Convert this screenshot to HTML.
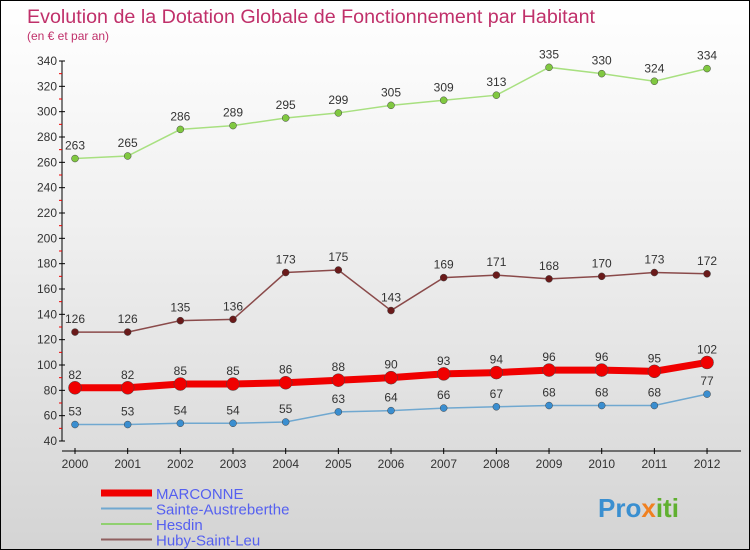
<!DOCTYPE html>
<html><head><meta charset="utf-8"><style>
body{margin:0}
#c{width:748px;height:548px;border:1px solid #000;background:linear-gradient(#fff 0%,#f0f0f0 40%,#d4d4d4 100%);position:relative;font-family:"Liberation Sans",sans-serif}
svg{position:absolute;left:0;top:0}
</style></head><body>
<div id="c">
<svg id="s" width="748" height="548" font-family="Liberation Sans, sans-serif">
<text x="26" y="22" font-size="19.7" fill="#c0306a">Evolution de la Dotation Globale de Fonctionnement par Habitant</text>
<text x="26" y="39" font-size="12" fill="#c0306a">(en € et par an)</text>
<text x="597" y="516" font-size="26" font-weight="bold" fill="#3a8fd0">Pro<tspan fill="#f08020">x</tspan><tspan fill="#60b030">iti</tspan></text>
</svg>
</div>
<script>
const years=["2000","2001","2002","2003","2004","2005","2006","2007","2008","2009","2010","2011","2012"];
const marconne=[82,82,85,85,86,88,90,93,94,96,96,95,102];
const sainte=[53,53,54,54,55,63,64,66,67,68,68,68,77];
const hesdin=[263,265,286,289,295,299,305,309,313,335,330,324,334];
const huby=[126,126,135,136,173,175,143,169,171,168,170,173,172];
const yTicks=[40,60,80,100,120,140,160,180,200,220,240,260,280,300,320,340];
const names=["MARCONNE","Sainte-Austreberthe","Hesdin","Huby-Saint-Leu"];
const s=document.getElementById('s');const NS="http://www.w3.org/2000/svg";
function el(t,a,p){const e=document.createElementNS(NS,t);for(const k in a)e.setAttribute(k,a[k]);(p||s).appendChild(e);return e;}
const X=i=>74+i*52.67, Y=v=>440-(v-40)*380/300;
let ya=el('line',{x1:61,y1:60,x2:61,y2:440,stroke:'#000'});

let xa=el('line',{x1:61,y1:450,x2:740,y2:450,stroke:'#000'});

yTicks.forEach((v,i)=>{
 el('line',{x1:58,y1:Y(v),x2:64,y2:Y(v),stroke:'#000'});
 if(i<yTicks.length-1)el('line',{x1:58,y1:Y(v+10),x2:61,y2:Y(v+10),stroke:'#e00'});
 const t=el('text',{x:56,y:Y(v)+4,'font-size':12,fill:'#333','text-anchor':'end'});t.textContent=v;
 
});
years.forEach((y,i)=>{
 el('line',{x1:X(i),y1:447,x2:X(i),y2:453,stroke:'#000'});
 const t=el('text',{x:X(i),y:467,'font-size':12,fill:'#333','text-anchor':'middle'});t.textContent=y;
 
});
function series(data,color,dot,w,r,name){
 const g=el('g',{});
 el('polyline',{points:data.map((v,i)=>X(i)+','+Y(v)).join(' '),fill:'none',stroke:color,'stroke-width':w},g);
 data.forEach((v,i)=>{
  const c=el('circle',{cx:X(i),cy:Y(v),r:r,fill:dot,stroke:'#444','stroke-width':0.5},g);
  
  const t=el('text',{x:X(i),y:Y(v)-9,'font-size':12,fill:'#333','text-anchor':'middle'},g);t.textContent=v;
 });
}
series(hesdin,'#a8e080','#80c840',1.5,3.5,'series-hesdin');
series(huby,'#8a4a4a','#6a1a1a',1.5,3.5,'series-huby');
series(sainte,'#70a8d0','#3a8ed0',1.5,3.5,'series-sainte');
series(marconne,'#f00000','#f00000',7,6.5,'series-marconne');
const lc=['#f00000','#70a8d0','#90d070','#906060'],lw=[7,2,2,2];
names.forEach((n,i)=>{
 const y=492+i*15.5;
 const l=el('line',{x1:100,y1:y,x2:151,y2:y,stroke:lc[i],'stroke-width':lw[i]});
 
 const t=el('text',{x:155,y:y+6,'font-size':15,fill:'#5560f0'});t.textContent=n;
 
});
</script>
</body></html>
